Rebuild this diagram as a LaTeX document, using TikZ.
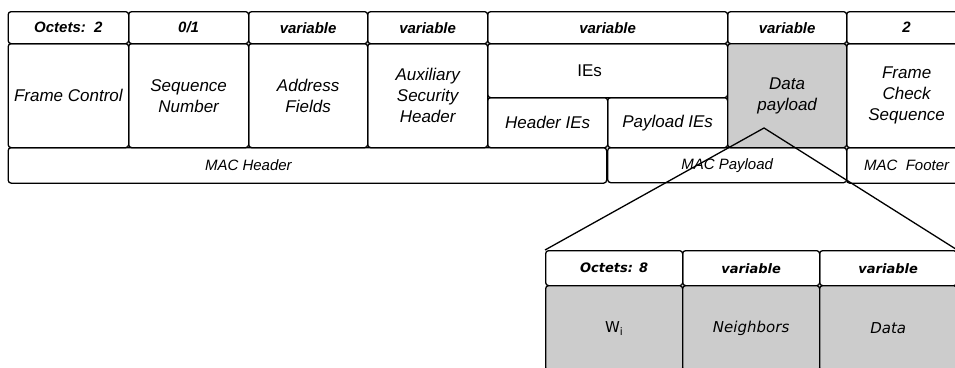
\documentclass[tikz,border=0pt]{standalone}
\usepackage{fontspec}
\setmainfont{Liberation Sans}
\newfontfamily\subfont{DejaVu Sans}
\usetikzlibrary{positioning}

\tikzset{
  box/.style={draw, line width=1.3pt, rounded corners=3pt, anchor=north west, inner sep=0pt, align=center},
  hdr/.style={box, minimum height=32pt, font=\fontsize{15}{18}\selectfont\bfseries\itshape},
  fld/.style={box, font=\fontsize{17}{21}\selectfont\itshape},
  ftr/.style={box, minimum height=35.5pt, font=\fontsize{15}{18}\selectfont\itshape},
  subhdr/.style={box, minimum width=137pt, minimum height=35pt, font=\subfont\fontsize{13}{16}\selectfont\bfseries\itshape},
  subfld/.style={box, fill=black!20, minimum width=137pt, minimum height=85pt, font=\subfont\fontsize{15}{18}\selectfont},
  zoomline/.style={line width=1.3pt}
}

\begin{document}
\begin{tikzpicture}[x=1pt, y=-1pt]
			\useasboundingbox (0,0) rectangle (955,367);
			\clip (0,0) rectangle (955,367);
			
			% header row: octets
			\node[hdr, minimum width=120.5pt] (octfc) at (7.5,11) {Octets:\ \ 2};
			\node[hdr, minimum width=120pt] (octsn) at (128,11) {0/1};
			\node[hdr, minimum width=119pt] (octaf) at (248,11) {variable};
			\node[hdr, minimum width=120pt] (octash) at (367,11) {variable};
			\node[hdr, minimum width=240pt] (octie) at (487,11) {variable};
			\node[hdr, minimum width=119pt] (octdp) at (727,11) {variable};
			\node[hdr, minimum width=120pt] (octfcs) at (846,11) {2};
			
			% fields
			\node[fld, minimum width=120.5pt, minimum height=104pt] (fc) at (7.5,43) {Frame Control};
			\node[fld, minimum width=120pt, minimum height=104pt] (sn) at (128,43) {Sequence\\Number};
			\node[fld, minimum width=119pt, minimum height=104pt] (af) at (248,43) {Address\\Fields};
			\node[fld, minimum width=120pt, minimum height=104pt] (ash) at (367,43) {Auxiliary\\Security\\Header};
			\node[fld, minimum width=240pt, minimum height=54pt, font=\fontsize{17}{21}\selectfont] (ie) at (487,43) {IEs\hspace*{36pt}};
			\node[fld, minimum width=120pt, minimum height=50pt] (hie) at (487,97) {Header IEs};
			\node[fld, minimum width=120pt, minimum height=50pt] (pie) at (607,97) {Payload IEs};
			\node[fld, fill=black!20, minimum width=119pt, minimum height=104pt] (dp) at (727,43) {Data\\payload};
			\node[fld, minimum width=120pt, minimum height=104pt] (fcs) at (846,43) {Frame\\Check\\Sequence};
			
			% footer row
			\node[ftr, minimum width=598.5pt] (mhr) at (7.5,147) {MAC Header\hspace*{118pt}};
			\node[ftr, minimum width=239pt, minimum height=35pt] (mpl) at (607,147) {MAC Payload};
			\node[ftr, minimum width=120pt] (mfr) at (846,147) {MAC\ \ Footer};
			
			% data payload, expanded
			\node[subhdr] (octwi) at (545,250) {Octets: 8};
			\node[subhdr] (octnb) at (682,250) {variable};
			\node[subhdr] (octdt) at (819,250) {variable};
			\node[subfld] (wi) at (545,285) {W\textsubscript{i}};
			\node[subfld, font=\subfont\fontsize{15}{18}\selectfont\itshape] (nb) at (682,285) {Neighbors};
			\node[subfld, font=\subfont\fontsize{15}{18}\selectfont\itshape] (dt) at (819,285) {Data};
			
			\coordinate (apex) at (764,128);
			\draw[zoomline] (octwi.north west) -- (apex) -- (octdt.north east);
\end{tikzpicture}
\end{document}
